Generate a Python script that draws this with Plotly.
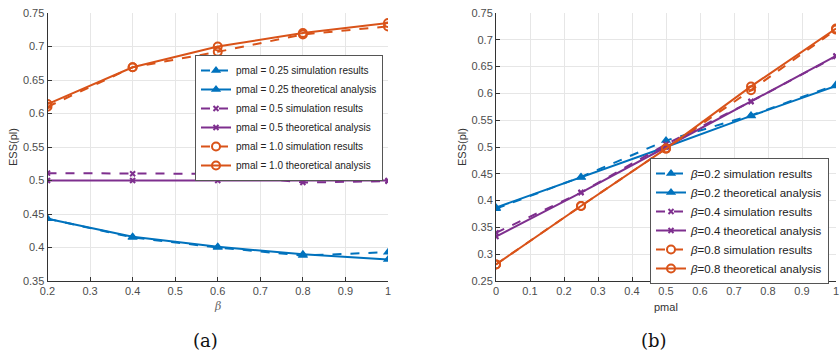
import plotly.graph_objects as go

# ---- data: panel (a) ----
beta_x = [0.2, 0.4, 0.6, 0.8, 1.0]
a_p025_sim = [0.443, 0.415, 0.400, 0.388, 0.393]
a_p025_th = [0.443, 0.416, 0.401, 0.390, 0.382]
a_p05_sim = [0.511, 0.510, 0.510, 0.497, 0.499]
a_p05_th = [0.500, 0.500, 0.500, 0.500, 0.500]
a_p10_sim = [0.610, 0.669, 0.692, 0.718, 0.730]
a_p10_th = [0.614, 0.669, 0.700, 0.720, 0.735]
a_names = ["pmal = 0.25 simulation results", "pmal = 0.25 theoretical analysis",
           "pmal = 0.5 simulation results", "pmal = 0.5 theoretical analysis",
           "pmal = 1.0 simulation results", "pmal = 1.0 theoretical analysis"]

# ---- data: panel (b) ----
pmal_x = [0.0, 0.25, 0.5, 0.75, 1.0]
b_b02_sim = [0.385, 0.444, 0.512, 0.559, 0.616]
b_b02_th = [0.387, 0.443, 0.500, 0.558, 0.614]
b_b04_sim = [0.340, 0.415, 0.505, 0.585, 0.669]
b_b04_th = [0.333, 0.415, 0.500, 0.585, 0.670]
b_b08_sim = [0.281, 0.390, 0.497, 0.606, 0.719]
b_b08_th = [0.281, 0.390, 0.497, 0.613, 0.721]
b_names = ["<i>β</i>=0.2 simulation results", "<i>β</i>=0.2 theoretical analysis",
           "<i>β</i>=0.4 simulation results", "<i>β</i>=0.4 theoretical analysis",
           "<i>β</i>=0.8 simulation results", "<i>β</i>=0.8 theoretical analysis"]

BLUE = "#0072BD"
PURPLE = "#7E2F8E"
ORANGE = "#D95319"

styles = [
    (BLUE, "dash", dict(symbol="triangle-up", size=9)),
    (BLUE, "solid", dict(symbol="triangle-up", size=9)),
    (PURPLE, "dash", dict(symbol="x-thin", size=5, line=dict(width=2, color=PURPLE))),
    (PURPLE, "solid", dict(symbol="x-thin", size=5, line=dict(width=2, color=PURPLE))),
    (ORANGE, "dash", dict(symbol="circle-open", size=8, line=dict(width=2))),
    (ORANGE, "solid", dict(symbol="circle-open", size=8, line=dict(width=2))),
]

fig = go.Figure()

a_series = [a_p025_sim, a_p025_th, a_p05_sim, a_p05_th, a_p10_sim, a_p10_th]
for ys, name, (col, dash, mk) in zip(a_series, a_names, styles):
    fig.add_trace(go.Scatter(x=beta_x, y=ys, name=name, mode="lines+markers",
                             line=dict(color=col, dash=dash, width=2),
                             marker=dict(color=col, **mk),
                             xaxis="x", yaxis="y", legend="legend"))

b_series = [b_b02_sim, b_b02_th, b_b04_sim, b_b04_th, b_b08_sim, b_b08_th]
for ys, name, (col, dash, mk) in zip(b_series, b_names, styles):
    fig.add_trace(go.Scatter(x=pmal_x, y=ys, name=name, mode="lines+markers",
                             line=dict(color=col, dash=dash, width=2),
                             marker=dict(color=col, **mk),
                             xaxis="x2", yaxis="y2", legend="legend2"))

FONT = "Liberation Sans, Arial, sans-serif"
TICKCOL = "#4d4d4d"
ydom = [1 - 281 / 357, 1 - 13 / 357]

axis_common = dict(showgrid=True, gridcolor="#e6e6e6", gridwidth=1,
                   showline=True, linecolor="#333333", linewidth=1,
                   ticks="inside", ticklen=4, tickcolor="#333333",
                   tickfont=dict(family=FONT, size=11, color=TICKCOL),
                   zeroline=False, mirror=False, automargin=False,
                   ticklabeloverflow="allow")

fig.update_layout(
    width=840, height=357,
    margin=dict(l=0, r=0, t=0, b=0, autoexpand=False),
    paper_bgcolor="white", plot_bgcolor="white",
    font=dict(family=FONT, size=11, color="#222222"),
    xaxis=dict(domain=[47.5 / 840, 388 / 840], range=[0.2, 1.0], dtick=0.1,
               tick0=0.2, anchor="y", **axis_common),
    yaxis=dict(domain=ydom, range=[0.35, 0.75], dtick=0.05, anchor="x",
               tickformat=".2~f", **axis_common),
    xaxis2=dict(domain=[496 / 840, 836 / 840], range=[0, 1.0], dtick=0.1,
                anchor="y2", **axis_common),
    yaxis2=dict(domain=ydom, range=[0.25, 0.75], dtick=0.05, anchor="x2",
                tickformat=".2~f", **axis_common),
    legend=dict(x=195 / 840, y=1 - 55 / 357, xanchor="left", yanchor="top",
                bgcolor="white", bordercolor="#555555", borderwidth=1,
                font=dict(family=FONT, size=10, color="#222222"),
                tracegroupgap=0),
    legend2=dict(x=829 / 840, y=1 - 158 / 357, xanchor="right", yanchor="top",
                 bgcolor="white", bordercolor="#555555", borderwidth=1,
                 font=dict(family=FONT, size=11.5, color="#222222"),
                 tracegroupgap=0),
    showlegend=True,
)

ann = [
    dict(text="ESS(pl)", x=13 / 840, y=1 - 147 / 357, textangle=-90,
         font=dict(family=FONT, size=11, color="#333333")),
    dict(text="ESS(pl)", x=462 / 840, y=1 - 147 / 357, textangle=-90,
         font=dict(family=FONT, size=11, color="#333333")),
    dict(text="<i>β</i>", x=217 / 840, y=1 - 306 / 357,
         font=dict(family="DejaVu Serif, serif", size=11, color="#666666")),
    dict(text="pmal", x=666 / 840, y=1 - 307 / 357,
         font=dict(family=FONT, size=11, color="#333333")),
    dict(text="(a)", x=205 / 840, y=1 - 340 / 357,
         font=dict(family="DejaVu Serif, Liberation Serif, serif", size=18, color="#111111")),
    dict(text="(b)", x=654 / 840, y=1 - 340 / 357,
         font=dict(family="DejaVu Serif, Liberation Serif, serif", size=18, color="#111111")),
]
for a in ann:
    fig.add_annotation(xref="paper", yref="paper", showarrow=False,
                       xanchor="center", yanchor="middle", **a)

fig.write_html("out.html", config={"displayModeBar": False},
               post_script="document.body.style.margin='0';document.body.style.overflow='hidden';")
